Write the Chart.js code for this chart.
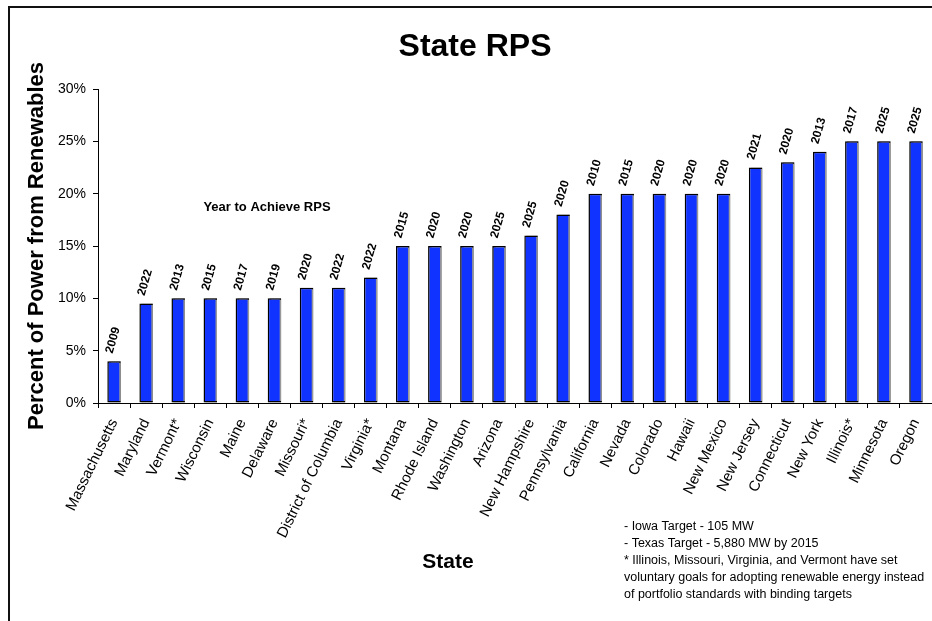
<!DOCTYPE html>
<html>
<head>
<meta charset="utf-8">
<title>State RPS</title>
<script src="https://cdn.jsdelivr.net/npm/chart.js@4.4.0/dist/chart.umd.min.js"></script>
<style>
	html, body { margin: 0; padding: 0; background: #fff; }
	#wrap { width: 932px; height: 621px; position: relative; }
</style>
</head>
<body>
<div id="wrap"><canvas id="rpsChart"></canvas></div>
<script>
// chart data
const states = ["Massachusetts", "Maryland", "Vermont*", "Wisconsin", "Maine", "Delaware", "Missouri*",
	"District of Columbia", "Virginia*", "Montana", "Rhode Island", "Washington", "Arizona", "New Hampshire",
	"Pennsylvania", "California", "Nevada", "Colorado", "Hawaii", "New Mexico", "New Jersey", "Connecticut",
	"New York", "Illinois*", "Minnesota", "Oregon"];
const rpsPercent = [4, 9.5, 10, 10, 10, 10, 11, 11, 12, 15, 15, 15, 15, 16, 18, 20, 20, 20, 20, 20, 22.5, 23, 24, 25, 25, 25];
const targetYears = ["2009", "2022", "2013", "2015", "2017", "2019", "2020", "2022", "2022", "2015", "2020", "2020",
	"2025", "2025", "2020", "2010", "2015", "2020", "2020", "2020", "2021", "2020", "2013", "2017", "2025", "2025"];
const notes = [
	"- Iowa Target - 105 MW",
	"- Texas Target - 5,880 MW by 2015",
	"* Illinois, Missouri, Virginia, and Vermont have set",
	"voluntary goals for adopting renewable energy instead",
	"of portfolio standards with binding targets"
];

const FONT = "Arial, 'Liberation Sans', sans-serif";
Chart.defaults.color = "#000";
Chart.defaults.font.family = FONT;

// frame, titles, notes and the year labels over the bars
const decorations = {
	id: "decorations",
	beforeDraw(chart) {
		const ctx = chart.ctx;
		ctx.save();
		ctx.fillStyle = "#fff";
		ctx.fillRect(0, 0, chart.width, chart.height);
		ctx.strokeStyle = "#111";
		ctx.lineWidth = 2;
		ctx.strokeRect(9, 7, chart.width + 50, chart.height + 50);
		ctx.restore();
	},
	beforeDatasetsDraw(chart) {
		const ctx = chart.ctx;
		ctx.save();
		ctx.shadowColor = "#999";
		ctx.shadowOffsetX = 2;
		ctx.shadowOffsetY = 0;
		ctx.shadowBlur = 0;
	},
	afterDatasetsDraw(chart) {
		const ctx = chart.ctx;
		ctx.restore();
		const meta = chart.getDatasetMeta(0);
		ctx.save();
		ctx.fillStyle = "#000";
		ctx.font = "bold 12px " + FONT;
		ctx.textAlign = "center";
		ctx.textBaseline = "middle";
		meta.data.forEach((bar, i) => {
			ctx.save();
			ctx.translate(bar.x - 1, bar.y - 21);
			ctx.rotate(-74 * Math.PI / 180);
			ctx.fillText(targetYears[i], 0, 0);
			ctx.restore();
		});
		ctx.restore();
	},
	afterDraw(chart) {
		const ctx = chart.ctx;
		const area = chart.chartArea;
		ctx.save();
		ctx.fillStyle = "#000";
		ctx.textBaseline = "middle";
		ctx.textAlign = "center";

		ctx.font = "bold 32px " + FONT;
		ctx.fillText("State RPS", 475, 47);

		ctx.font = "bold 21px " + FONT;
		ctx.fillText("State", 448, 562);

		ctx.font = "bold 13px " + FONT;
		ctx.fillText("Year to Achieve RPS", area.left + 169, area.top + 118);

		ctx.textAlign = "left";
		ctx.font = "12.5px " + FONT;
		notes.forEach((line, i) => {
			ctx.fillText(line, 624, 527 + i * 17);
		});
		ctx.restore();
	}
};

new Chart(document.getElementById("rpsChart"), {
	type: "bar",
	data: {
		labels: states,
		datasets: [{
			data: rpsPercent,
			backgroundColor: "#1033ff",
			borderColor: "#000",
			borderWidth: 1.5,
			borderSkipped: false,
			categoryPercentage: 1,
			barPercentage: 0.42
		}]
	},
	options: {
		responsive: true,
		maintainAspectRatio: false,
		animation: false,
		layout: { padding: { top: 89, left: 0, right: 0, bottom: 0 } },
		plugins: {
			legend: { display: false },
			tooltip: { enabled: false }
		},
		scales: {
			x: {
				afterFit(scale) {
					scale.height = 218;
					scale.paddingLeft = 0;
					scale.paddingRight = 0;
				},
				grid: { offset: true, drawOnChartArea: false, tickLength: 5, color: "#000" },
				border: { color: "#000", width: 1 },
				ticks: {
					autoSkip: false,
					minRotation: 64,
					maxRotation: 64,
					padding: 8,
					font: { size: 15 }
				}
			},
			y: {
				min: 0,
				max: 30,
				afterFit(scale) { scale.width = 98; },
				grid: { drawOnChartArea: false, tickLength: 5, color: "#000" },
				border: { color: "#000", width: 1 },
				ticks: {
					stepSize: 5,
					padding: 7,
					font: { size: 14 },
					callback: v => v + "%"
				},
				title: {
					display: true,
					text: "Percent of Power from Renewables",
					font: { size: 22, weight: "bold" },
					padding: { top: 24, bottom: 0 }
				}
			}
		}
	},
	plugins: [decorations]
});
</script>
</body>
</html>
